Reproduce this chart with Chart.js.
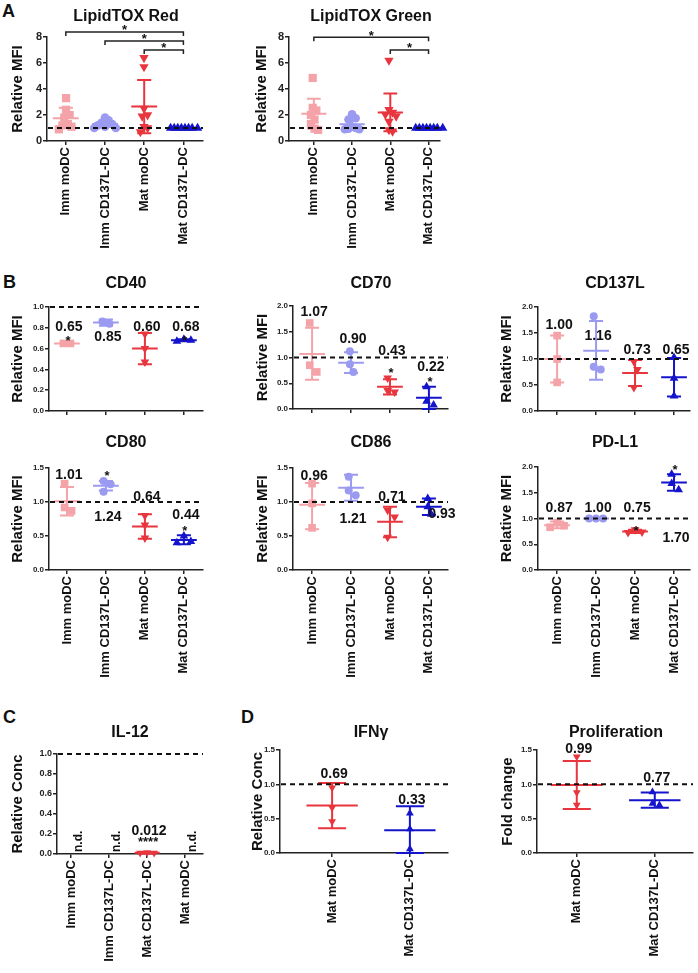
<!DOCTYPE html>
<html>
<head>
<meta charset="utf-8">
<script src="https://cdn.jsdelivr.net/npm/chart.js@4.4.1/dist/chart.umd.min.js"></script>
<style>
  body { margin: 0; background: #fff; width: 698px; height: 973px; position: relative; overflow: hidden; }
  canvas { position: absolute; }
  .lt { position: absolute; font: bold 18px 'Liberation Sans', Arial, sans-serif; color: #111; line-height: 18px; }
</style>
</head>
<body>
<div class="lt" style="left:2px;top:2px">A</div>
<div class="lt" style="left:3px;top:273px">B</div>
<div class="lt" style="left:3px;top:708px">C</div>
<div class="lt" style="left:241px;top:708px">D</div>
<script>
Chart.defaults.font.family = "'Liberation Sans', Arial, sans-serif";
Chart.defaults.color = '#111';

// categories
const groupsAB = ['Imm moDC', 'Imm CD137L-DC', 'Mat moDC', 'Mat CD137L-DC'];
const groupsC = ['Imm moDC', 'Imm CD137L-DC', 'Mat CD137L-DC', 'Mat moDC'];
const groupsD = ['Mat moDC', 'Mat CD137L-DC'];

// y tick labels
const ticksA = [0, 2, 4, 6, 8];
const ticksCD40 = [0, 0.2, 0.4, 0.6, 0.8, 1.0];
const ticks15 = [0, 0.5, 1.0, 1.5];
const ticks20 = [0, 0.5, 1.0, 1.5, 2.0];
const ticksIL12 = [0, 0.2, 0.4, 0.6, 0.8, 1.0];

// A: LipidTOX Red
const redPts = [
  [3.3, 2.4, 2.0, 1.8, 1.3, 1.2, 1.1, 0.9],
  [1.8, 1.6, 1.4, 1.3, 1.2, 1.1, 1.0, 1.0],
  [6.4, 5.7, 2.5, 2.0, 1.9, 1.1, 1.0, 0.7],
  [1, 1, 1, 1, 1, 1, 1, 1]
];
const redMean = [1.75, 1.3, 2.65, 1.0];
const redErr = [[1.0, 2.55], [1.1, 1.5], [0.6, 4.7], [1.0, 1.0]];

// A: LipidTOX Green
const greenPts = [
  [4.85, 2.55, 2.35, 2.0, 1.65, 1.3, 0.95, 0.85],
  [2.05, 1.75, 1.65, 1.1, 1.0, 0.95, 0.9, 0.9],
  [6.2, 2.4, 2.2, 2.05, 1.9, 1.5, 0.85, 0.75],
  [1, 1, 1, 1, 1, 1, 1, 1]
];
const greenMean = [2.1, 1.28, 2.2, 1.0];
const greenErr = [[0.95, 3.25], [0.85, 1.75], [0.75, 3.65], [1.0, 1.0]];

// B
const cd40Pts = [[0.65, 0.65], [0.86, 0.84], [0.74, 0.60, 0.47], [0.69, 0.68, 0.67]];
const cd40Mean = [0.65, 0.85, 0.60, 0.68];
const cd40Err = [[0.64, 0.66], [0.82, 0.88], [0.45, 0.75], [0.67, 0.69]];

const cd70Pts = [[1.67, 0.85, 0.72], [1.12, 0.87, 0.72], [0.60, 0.36, 0.33], [0.43, 0.15, 0.08]];
const cd70Mean = [1.07, 0.90, 0.43, 0.22];
const cd70Err = [[0.57, 1.58], [0.70, 1.10], [0.28, 0.58], [0.0, 0.43]];

const cd137lPts = [[1.45, 1.0, 0.55], [1.82, 0.85, 0.80], [0.95, 0.80, 0.45], [1.03, 0.63, 0.29]];
const cd137lMean = [1.00, 1.16, 0.73, 0.65];
const cd137lErr = [[0.55, 1.45], [0.60, 1.73], [0.48, 0.98], [0.28, 1.02]];

const cd80Pts = [[1.27, 0.92, 0.87], [1.31, 1.26, 1.15], [0.80, 0.66, 0.47], [0.50, 0.42, 0.40]];
const cd80Mean = [1.01, 1.24, 0.64, 0.44];
const cd80Err = [[0.80, 1.22], [1.17, 1.31], [0.46, 0.82], [0.38, 0.51]];

const cd86Pts = [[1.27, 0.98, 0.62], [1.37, 1.17, 1.10], [0.88, 0.78, 0.48], [1.05, 0.93, 0.82]];
const cd86Mean = [0.96, 1.21, 0.71, 0.93];
const cd86Err = [[0.60, 1.28], [1.02, 1.40], [0.48, 0.93], [0.81, 1.05]];

const pdl1Pts = [[0.92, 0.86, 0.83], [1.0, 1.0, 1.0], [0.78, 0.74, 0.73], [1.86, 1.68, 1.56]];
const pdl1Mean = [0.87, 1.00, 0.75, 1.70];
const pdl1Err = [[0.81, 0.94], [0.99, 1.01], [0.72, 0.78], [1.54, 1.86]];

// C: IL-12
const il12Pts = [[], [], [0.014, 0.011, 0.011], []];
const il12Mean = [null, null, 0.012, null];
const il12Err = [null, null, [0.005, 0.019], null];

// D
const ifngPts = [[0.95, 0.66, 0.46], [0.58, 0.35, 0.06]];
const ifngMean = [0.69, 0.33];
const ifngErr = [[0.36, 1.02], [0.0, 0.68]];

const prolPts = [[1.40, 0.88, 0.70], [0.89, 0.72, 0.70]];
const prolMean = [0.99, 0.77];
const prolErr = [[0.64, 1.34], [0.66, 0.88]];

// styles
const PINK = '#f4a3a8', LAV = '#9a9af0', RED = '#e8353e', BLUE = '#1414cc';
const colAB = [PINK, LAV, RED, BLUE];
const shapeAB = [['rect', 0], ['circle', 0], ['triangle', 180], ['triangle', 0]];
const colC = [PINK, LAV, RED, BLUE];
const shapeC = [['rect', 0], ['circle', 0], ['triangle', 180], ['triangle', 0]];
const colD = [RED, BLUE];
const shapeD = [['triangle', 180], ['triangle', 0]];

const YW = 50, PT = 40, XH = 135, PR = 10;
const FONT = "'Liberation Sans', Arial, sans-serif";

const panels = [
  { title: 'LipidTOX Red', yTitle: 'Relative MFI', cats: groupsAB, pts: redPts, mean: redMean, err: redErr,
    ticks: ticksA, dec: 0, col: colAB, shp: shapeAB, ax: 47, rx: 203, ty: 37, by: 141, xmin: -0.48, xmax: 3.5,
    tx: 126, tty: 17, yx: 18, tickFont: 11, r: 4.3, sx: 3.6, sy: 8, showX: true,
    brackets: [[0, 3, 8.38], [1, 3, 7.69], [2, 3, 7.0]] },
  { title: 'LipidTOX Green', yTitle: 'Relative MFI', cats: groupsAB, pts: greenPts, mean: greenMean, err: greenErr,
    ticks: ticksA, dec: 0, col: colAB, shp: shapeAB, ax: 289, rx: 440, ty: 37, by: 141, xmin: -0.65, xmax: 3.3,
    tx: 371, tty: 17, yx: 262, tickFont: 11, r: 4.3, sx: 3.6, sy: 8, showX: true,
    brackets: [[0, 3, 7.98], [2, 3, 7.0]] },
  { title: 'CD40', yTitle: 'Relative MFI', cats: groupsAB, pts: cd40Pts, mean: cd40Mean, err: cd40Err,
    ticks: ticksCD40, dec: 1, col: colAB, shp: shapeAB, ax: 49, rx: 203, ty: 307, by: 411, xmin: -0.46, xmax: 3.49,
    tx: 126, tty: 284, yx: 18, tickFont: 8, r: 4, sx: 7, sy: 8, showX: false,
    labY: [0.81, 0.71, 0.81, 0.81], stars: [[0, 0.71], [3, 0.71]] },
  { title: 'CD70', yTitle: 'Relative MFI', cats: groupsAB, pts: cd70Pts, mean: cd70Mean, err: cd70Err,
    ticks: ticks20, dec: 1, col: colAB, shp: shapeAB, ax: 293, rx: 448, ty: 306, by: 409, xmin: -0.49, xmax: 3.49,
    tx: 371, tty: 284, yx: 263, tickFont: 8, r: 4, sx: 7, sy: 8, showX: false,
    labY: [1.88, 1.36, 1.13, 0.82], stars: [[2, 0.76], [3, 0.60]] },
  { title: 'CD137L', yTitle: 'Relative MFI', cats: groupsAB, pts: cd137lPts, mean: cd137lMean, err: cd137lErr,
    ticks: ticks20, dec: 1, col: colAB, shp: shapeAB, ax: 538, rx: 690, ty: 307, by: 411, xmin: -0.49, xmax: 3.41,
    tx: 615, tty: 284, yx: 507, tickFont: 8, r: 4, sx: 7, sy: 8, showX: false,
    labY: [1.65, 1.44, 1.17, 1.17] },
  { title: 'CD80', yTitle: 'Relative MFI', cats: groupsAB, pts: cd80Pts, mean: cd80Mean, err: cd80Err,
    ticks: ticks15, dec: 1, col: colAB, shp: shapeAB, ax: 49, rx: 203, ty: 468, by: 570, xmin: -0.46, xmax: 3.49,
    tx: 126, tty: 443, yx: 18, tickFont: 8, r: 4, sx: 7, sy: 8, showX: true,
    labY: [1.40, 0.78, 1.07, 0.81], stars: [[1, 1.43], [3, 0.62]] },
  { title: 'CD86', yTitle: 'Relative MFI', cats: groupsAB, pts: cd86Pts, mean: cd86Mean, err: cd86Err,
    ticks: ticks15, dec: 1, col: colAB, shp: shapeAB, ax: 293, rx: 448, ty: 468, by: 570, xmin: -0.49, xmax: 3.49,
    tx: 371, tty: 443, yx: 263, tickFont: 8, r: 4, sx: 7, sy: 8, showX: true,
    labY: [1.38, 0.75, 1.07, 0.82], labDx: [0, 0, 0, 11] },
  { title: 'PD-L1', yTitle: 'Relative MFI', cats: groupsAB, pts: pdl1Pts, mean: pdl1Mean, err: pdl1Err,
    ticks: ticks20, dec: 1, col: colAB, shp: shapeAB, ax: 538, rx: 690, ty: 467, by: 570, xmin: -0.49, xmax: 3.41,
    tx: 615, tty: 443, yx: 507, tickFont: 8, r: 4, sx: 7, sy: 8, showX: true,
    labY: [1.20, 1.20, 1.20, 0.62], stars: [[2, 0.83], [3, 2.0]] },
  { title: 'IL-12', yTitle: 'Relative Conc', cats: groupsC, pts: il12Pts, mean: il12Mean, err: il12Err,
    ticks: ticksIL12, dec: 1, col: colC, shp: shapeC, ax: 57, rx: 203, ty: 754, by: 854, xmin: -0.37, xmax: 3.47,
    tx: 130, tty: 733, yx: 18, tickFont: 9, r: 3.6, sx: 7, sy: 8, showX: true, labDec: 3,
    labY: [null, null, 0.23, null], stars: [[2, 0.15, '****']], nd: [0, 1, 3] },
  { title: 'IFNγ', yTitle: 'Relative Conc', cats: groupsD, pts: ifngPts, mean: ifngMean, err: ifngErr,
    ticks: ticks15, dec: 1, col: colD, shp: shapeD, ax: 280, rx: 448, ty: 750, by: 853, xmin: -0.67, xmax: 1.49,
    tx: 371, tty: 733, yx: 258, tickFont: 8, r: 3.6, sx: 7, sy: 8, showX: true,
    labY: [1.15, 0.77] },
  { title: 'Proliferation', yTitle: 'Fold change', cats: groupsD, pts: prolPts, mean: prolMean, err: prolErr,
    ticks: ticks15, dec: 1, col: colD, shp: shapeD, ax: 537, rx: 693, ty: 750, by: 853, xmin: -0.51, xmax: 1.49,
    tx: 616, tty: 733, yx: 508, tickFont: 8, r: 3.6, sx: 7, sy: 8, showX: true,
    labY: [1.51, 1.09] }
];

// simple beeswarm: horizontal offsets (in x units) so points don't pile up
// sx = horizontal step in px, sy = vertical overlap distance in px
function spread(vals, pxX, pxY, sx, sy) {
  const placed = [];
  const offs = vals.map(v => {
    const py = v * pxY;
    for (let k = 0; ; k++) {
      const o = k === 0 ? 0 : (k % 2 ? 1 : -1) * Math.ceil(k / 2) * sx * 0.5;
      const free = placed.every(q => ((q[0] - o) / sx) ** 2 + ((q[1] - py) / sy) ** 2 >= 1);
      if (free) {
        placed.push([o, py]);
        return o;
      }
    }
  });
  const c = offs.length ? offs.reduce((s, o) => s + o, 0) / offs.length : 0;
  return offs.map(o => (o - c) / pxX);
}

function star(ctx, s, x, y, size) {
  ctx.font = `bold ${size}px ${FONT}`;
  ctx.textAlign = 'center';
  ctx.textBaseline = 'alphabetic';
  ctx.fillText(s, x, y + size * 0.57);
}

function makeMarks(p) {
  return {
    id: 'marks',
    afterDatasetsDraw(chart) {
      const { ctx, chartArea: a, scales: { x, y } } = chart;
      const ox = p.ax - YW, oy = p.ty - PT;
      ctx.save();
      // mean and error bars
      p.mean.forEach((m, i) => {
        if (m == null) return;
        const [lo, hi] = p.err[i];
        const cx = x.getPixelForValue(i);
        ctx.strokeStyle = p.col[i];
        ctx.lineWidth = 2;
        ctx.beginPath();
        ctx.moveTo(x.getPixelForValue(i - 0.33), y.getPixelForValue(m));
        ctx.lineTo(x.getPixelForValue(i + 0.33), y.getPixelForValue(m));
        ctx.moveTo(cx, y.getPixelForValue(lo));
        ctx.lineTo(cx, y.getPixelForValue(hi));
        [lo, hi].forEach(v => {
          ctx.moveTo(x.getPixelForValue(i - 0.18), y.getPixelForValue(v));
          ctx.lineTo(x.getPixelForValue(i + 0.18), y.getPixelForValue(v));
        });
        ctx.stroke();
      });
      // dashed reference line at 1
      ctx.strokeStyle = '#111';
      ctx.lineWidth = 2;
      ctx.setLineDash([5, 4]);
      ctx.beginPath();
      ctx.moveTo(a.left + 1, y.getPixelForValue(1));
      ctx.lineTo(a.right, y.getPixelForValue(1));
      ctx.stroke();
      ctx.setLineDash([]);
      ctx.fillStyle = '#111';
      // mean value labels
      (p.labY || []).forEach((ly, i) => {
        if (ly == null) return;
        const dx = p.labDx ? p.labDx[i] : 0;
        ctx.font = `bold 14px ${FONT}`;
        ctx.textAlign = 'center';
        ctx.textBaseline = 'middle';
        ctx.fillText(p.mean[i].toFixed(p.labDec || 2), x.getPixelForValue(i) + 2 + dx, y.getPixelForValue(ly));
      });
      // significance stars
      (p.stars || []).forEach(([i, sv, s]) => star(ctx, s || '*', x.getPixelForValue(i) + 1, y.getPixelForValue(sv), 13));
      // brackets
      (p.brackets || []).forEach(([i, j, bv]) => {
        const py = y.getPixelForValue(bv);
        const x1 = x.getPixelForValue(i), x2 = x.getPixelForValue(j);
        ctx.strokeStyle = '#222';
        ctx.lineWidth = 1.5;
        ctx.beginPath();
        ctx.moveTo(x1, py + 4);
        ctx.lineTo(x1, py);
        ctx.lineTo(x2, py);
        ctx.lineTo(x2, py + 4);
        ctx.stroke();
        star(ctx, '*', (x1 + x2) / 2, py - 5, 13);
      });
      // n.d. labels
      (p.nd || []).forEach(i => {
        ctx.save();
        ctx.translate(x.getPixelForValue(i) + 8, a.bottom - 2);
        ctx.rotate(-Math.PI / 2);
        ctx.font = `bold 12px ${FONT}`;
        ctx.textAlign = 'left';
        ctx.textBaseline = 'middle';
        ctx.fillText('n.d.', 0, 0);
        ctx.restore();
      });
      // title
      ctx.font = `bold 16px ${FONT}`;
      ctx.textAlign = 'center';
      ctx.textBaseline = 'middle';
      ctx.fillText(p.title, p.tx - ox, p.tty - oy);
      // y axis title
      ctx.save();
      ctx.translate(p.yx - ox, (a.top + a.bottom) / 2);
      ctx.rotate(-Math.PI / 2);
      ctx.font = `bold 15px ${FONT}`;
      ctx.fillText(p.yTitle, 0, 0);
      ctx.restore();
      ctx.restore();
    }
  };
}

panels.forEach(p => {
  const cv = document.createElement('canvas');
  const W = p.rx - p.ax + YW + PR;
  const H = p.by - p.ty + PT + XH;
  cv.width = W;
  cv.height = H;
  cv.style.left = (p.ax - YW) + 'px';
  cv.style.top = (p.ty - PT) + 'px';
  document.body.appendChild(cv);

  const ymax = p.ticks[p.ticks.length - 1];
  const pxX = (p.rx - p.ax) / (p.xmax - p.xmin);
  const pxY = (p.by - p.ty) / ymax;

  const datasets = p.pts.map((vals, i) => {
    const offs = spread(vals, pxX, pxY, p.sx, p.sy);
    const [shape, rot] = p.shp[i];
    const rr = shape === 'rect' ? p.r * 1.35 : shape === 'triangle' ? p.r * 1.25 : p.r;
    return {
      data: vals.map((v, j) => ({ x: i + offs[j], y: v })),
      backgroundColor: p.col[i],
      borderWidth: 0,
      pointStyle: shape,
      rotation: rot,
      pointRadius: rr,
      showLine: false,
      clip: false
    };
  });

  new Chart(cv, {
    type: 'scatter',
    data: { datasets },
    options: {
      responsive: false,
      animation: false,
      devicePixelRatio: 1,
      layout: { padding: { top: PT, right: PR, left: 0, bottom: 0 } },
      plugins: { legend: { display: false }, tooltip: { enabled: false } },
      scales: {
        x: {
          type: 'linear',
          min: p.xmin,
          max: p.xmax,
          afterBuildTicks: s => { s.ticks = p.cats.map((_, i) => ({ value: i })); },
          afterFit: s => { s.height = XH; },
          grid: { drawOnChartArea: false, drawTicks: true, tickLength: 4, color: '#222', lineWidth: 1.5 },
          border: { display: true, color: '#222', width: 1.5 },
          ticks: {
            display: p.showX,
            autoSkip: false,
            minRotation: 90,
            maxRotation: 90,
            padding: 2,
            font: { size: 13, weight: 'bold' },
            color: '#111',
            callback: v => p.cats[v]
          }
        },
        y: {
          min: 0,
          max: ymax,
          afterBuildTicks: s => { s.ticks = p.ticks.map(v => ({ value: v })); },
          afterFit: s => { s.width = YW; },
          grid: { drawOnChartArea: false, drawTicks: true, tickLength: 4, color: '#222', lineWidth: 1.5 },
          border: { display: true, color: '#222', width: 1.5 },
          ticks: {
            padding: 1,
            font: { size: p.tickFont, weight: 'bold' },
            color: '#222',
            callback: v => v.toFixed(p.dec)
          }
        }
      }
    },
    plugins: [makeMarks(p)]
  });
});
</script>
</body>
</html>
